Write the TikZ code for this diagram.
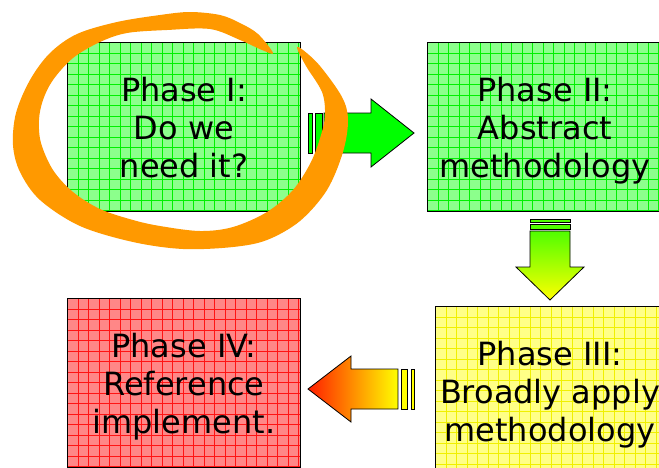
\documentclass[tikz,border=0pt]{standalone}
\usepackage{fontspec}
\setmainfont{DejaVu Sans}
\usetikzlibrary{calc}
\definecolor{gfill}{RGB}{140,255,140}
\definecolor{ggrid}{RGB}{0,240,0}
\definecolor{rfill}{RGB}{255,135,135}
\definecolor{rgrid}{RGB}{255,20,20}
\definecolor{yfill}{RGB}{255,255,135}
\definecolor{ygrid}{RGB}{240,240,0}
\definecolor{orangeloop}{RGB}{255,153,0}
\definecolor{arrowgreen}{RGB}{0,255,0}
\definecolor{shaftgreen}{RGB}{80,255,0}
\definecolor{arrowyellow}{RGB}{255,255,0}
\definecolor{arrowred}{RGB}{255,30,0}
\definecolor{arroworange}{RGB}{255,170,0}
\newcommand{\boxgrid}[2]{%
  \begin{scope}
    \clip (#1.north west) rectangle (#1.south east);
    \foreach \i in {1,...,23} {
      \draw[gridline, #2] ($(#1.north west)+(\i*10.5,0)$) -- ++(0,180);
    }
    \foreach \j in {1,...,17} {
      \draw[gridline, #2] ($(#1.north west)+(0,\j*10.5)$) -- ++(245,0);
    }
  \end{scope}
  \draw[border] (#1.north west) rectangle (#1.south east);
}
\begin{document}
\begin{tikzpicture}[x=1pt,y=-1pt,
  phasebox/.style={rectangle, inner sep=0pt, minimum width=232pt, minimum height=168pt},
  phasetext/.style={align=center, font=\fontsize{32}{38}\selectfont, inner sep=0pt},
  border/.style={draw=black, line width=1.2pt},
  gridline/.style={line width=0.7pt},
  blockarrow/.style={draw=black, line width=0.8pt, line join=miter}]
\useasboundingbox (0,0) rectangle (659,467);
\fill[white] (0,0) rectangle (659,467);

% boxes
\node[phasebox, fill=gfill] (p1) at (184,127) {};
\node[phasebox, fill=gfill, minimum width=234pt] (p2) at (545,127) {};
\node[phasebox, fill=yfill, minimum width=228pt] (p3) at (550,391) {};
\node[phasebox, fill=rfill] (p4) at (184,383) {};
\boxgrid{p1}{ggrid}
\boxgrid{p2}{ggrid}
\boxgrid{p3}{ygrid}
\boxgrid{p4}{rgrid}

% texts
\node[phasetext] (t1) at ($(p1.center)+(0,5)$) {\strut Phase I:\\\strut Do we\\\strut need it?};
\node[phasetext] (t2) at ($(p2.center)+(0,5)$) {\strut Phase II:\\\strut Abstract\\\strut methodology};
\node[phasetext] (t3) at ($(p3.center)+(0,4.4)$) {\strut Phase III:\\\strut Broadly apply\\\strut methodology};
\node[phasetext] (t4) at ($(p4.center)+(0,4.4)$) {\strut Phase IV:\\\strut Reference\\\strut implement.};

% arrow 1: right
\path[blockarrow, fill=arrowgreen] (308,113) rectangle (312,153);
\path[blockarrow, fill=arrowgreen] (315,113) rectangle (322,153);
\path[blockarrow, fill=arrowgreen] (324,113) -- (371,113) -- (371,99) -- (414,133)
  -- (371,167) -- (371,153) -- (324,153) -- cycle;

% arrow 2: down
\path[blockarrow, fill=shaftgreen] (530,219) rectangle (570,222);
\path[blockarrow, fill=shaftgreen] (530,224) rectangle (570,229);
\path[blockarrow, top color=shaftgreen, bottom color=arrowyellow] (530,231) -- (530,267) -- (516,267)
  -- (550,300) -- (584,267) -- (570,267) -- (570,231) -- cycle;

% arrow 3: left
\path[blockarrow, fill=arrowyellow] (411,369) rectangle (414,409);
\path[blockarrow, fill=arrowyellow] (401,369) rectangle (407,409);
\path[blockarrow, left color=arrowred, middle color=arroworange, right color=arrowyellow]
  (398,369) -- (351,369) -- (351,356) -- (308,389) -- (351,422) -- (351,409) -- (398,409) -- cycle;

% orange hand-drawn loop
\fill[orangeloop] plot[smooth cycle, tension=0.55] coordinates {
  (273,53) (258,34) (240,23) (220,15) (190,12) (160,15) (117,22) (77,34) (50,53)
  (30,80) (16,113) (13,145) (20,172) (40,200) (80,226) (133,242) (183,249)
  (233,247) (267,240) (300,221) (327,190) (343,152) (348,120) (342,97) (320,66)
  (303,50) (297,48) (306,66) (322,92) (325,115) (321,135) (311,162) (293,190)
  (267,212) (233,227) (200,231) (160,226) (133,220) (100,209) (73,192) (53,170)
  (41,143) (39,120) (43,100) (53,80) (73,58) (100,42) (127,33) (167,30) (210,29)
  (240,40) (262,50)};
\end{tikzpicture}
\end{document}
